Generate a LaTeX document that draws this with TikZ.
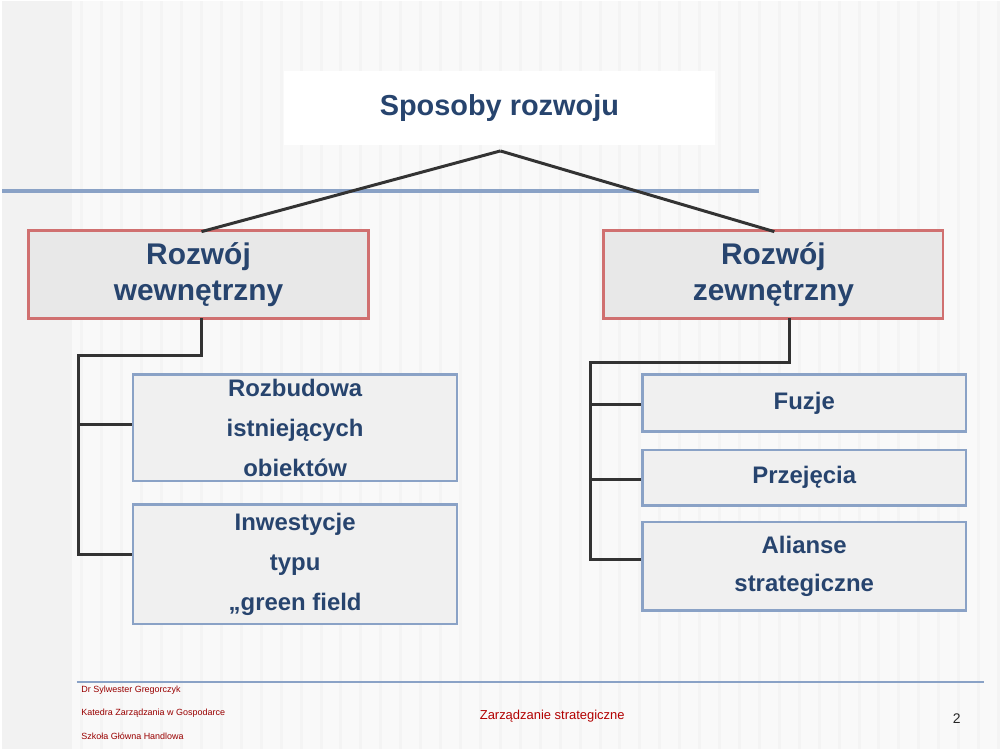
\documentclass[tikz,border=0pt]{standalone}
\usepackage{fontspec}
\setmainfont{Liberation Sans}
\definecolor{tc}{HTML}{27446E}
\definecolor{bl}{HTML}{8AA2C6}
\definecolor{rl}{HTML}{D07070}
\begin{document}
\begin{tikzpicture}[x=1pt,y=-1pt,
 tx/.style={text=tc,font=\bfseries,align=center},
 big/.style={tx,font=\fontsize{30}{36}\selectfont\bfseries},
 mid/.style={tx,font=\fontsize{24}{40}\selectfont\bfseries},
 main/.style={draw=rl,line width=2.5pt,fill=gray!18},
 sub/.style={draw=bl,line width=2.5pt,fill=gray!12},
 ln/.style={draw=gray!40!black,line width=3pt},
 foot/.style={text=red!60!black,font=\fontsize{9}{10}\selectfont,anchor=west}]
\fill[gray!5] (0,0) rectangle (1000,750);
\fill[gray!10] (0,0) rectangle (70,750);
\foreach \i in {80,100,...,1000} \draw[gray!9,line width=3pt] (\i,0) -- (\i,750);
\node[fill=white,minimum width=432pt,minimum height=75pt,inner sep=0] (t) at (499,107) {};
\node[tx,font=\fontsize{29}{34}\selectfont\bfseries] (tt) at (t) {Sposoby rozwoju};
\draw[bl,line width=4.5pt] (0,190) -- (760,190);
\node[main,minimum width=341pt,minimum height=88pt] (L) at (197,274) {};
\node[big] at (L) {Rozwój\\wewnętrzny};
\node[main,minimum width=341pt,minimum height=88pt] (R) at (774,274) {};
\node[big] at (R) {Rozwój\\zewnętrzny};
\coordinate (apex) at (500,150);
\draw[ln] (apex) -- (200,231);
\draw[ln] (apex) -- (775,231);
\node[sub,minimum width=325pt,minimum height=107pt] (a1) at (294,428) {};
\node[mid] at (a1) {Rozbudowa\\istniejących\\obiektów};
\node[sub,minimum width=325pt,minimum height=120pt] (a2) at (294,565) {};
\node[mid] at (a2) {Inwestycje\\typu\\„green field};
\node[sub,minimum width=325pt,minimum height=57pt] (b1) at (805,403) {};
\node[mid] at (b1) {Fuzje};
\node[sub,minimum width=325pt,minimum height=56pt] (b2) at (805,478) {};
\node[mid] at (b2) {Przejęcia};
\node[sub,minimum width=325pt,minimum height=89pt] (b3) at (805,567) {};
\node[mid,font=\fontsize{24}{38}\selectfont\bfseries] at (b3) {Alianse\\strategiczne};
\draw[ln] (200,318) -- (200,355) -- (77,355) -- (77,555) -- (a2.west|-0,555);
\draw[ln] (77,425) -- (a1.west|-0,425);
\draw[ln] (790,318) -- (790,362) -- (590,362) -- (590,560) -- (b3.west|-0,560);
\draw[ln] (590,405) -- (b1.west|-0,405);
\draw[ln] (590,480) -- (b2.west|-0,480);
\draw[bl,line width=2.5pt] (75,683) -- (985,683);
\node[foot] at (76,691) {Dr Sylwester Gregorczyk};
\node[foot] at (76,714) {Katedra Zarządzania w Gospodarce};
\node[foot] at (76,737) {Szkoła Główna Handlowa};
\node[text=red!70!black,font=\fontsize{13}{14}\selectfont] at (552,717) {Zarządzanie strategiczne};
\node[font=\fontsize{14}{16}\selectfont,text=gray!30!black] at (958,720) {2};
\end{tikzpicture}
\end{document}
